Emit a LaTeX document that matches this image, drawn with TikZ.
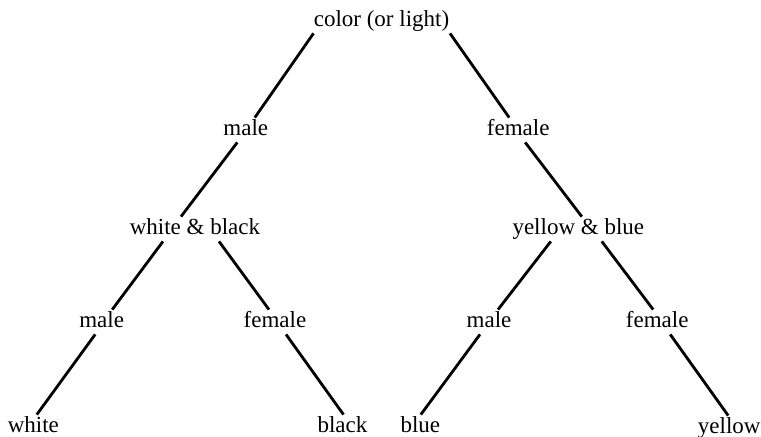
\documentclass[tikz,border=0pt]{standalone}
\usepackage{fontspec}
\setmainfont{Liberation Serif}
\usetikzlibrary{calc}

\begin{document}
\begin{tikzpicture}[
    x=0.5pt, y=-0.5pt,
    font=\fontsize{11.5}{14}\selectfont,
    lbl/.style={anchor=base, inner sep=2pt, text height=0.7em, text depth=0.1em},
    edge/.style={line width=1.4pt},
  ]
  \useasboundingbox (0,0) rectangle (761,437);

  % --- labels, one row per level ---
  \node[lbl] (root) at (381.5,27) {color (or light)};
  \node[lbl] (male) at (245.8,136) {male};
  \node[lbl] (female) at (518.2,136) {female};
  \node[lbl] (wb) at (195,235) {white \& black};
  \node[lbl] (yb) at (578.3,235) {yellow \& blue};
  \node[lbl] (wbmale) at (101.7,328) {male};
  \node[lbl] (wbfemale) at (275,328) {female};
  \node[lbl] (ybmale) at (489,328) {male};
  \node[lbl] (ybfemale) at (657.2,328) {female};
  \node[lbl] (white) at (33.3,433) {white};
  \node[lbl] (black) at (342.5,433) {black};
  \node[lbl] (blue) at (420.3,433) {blue};
  \node[lbl] (yellow) at (729.2,434) {yellow};

  % --- branches ---
  \draw[edge] ($(root.south)+(-68,0)$) -- ($(male.north)+(9,0)$);
  \draw[edge] ($(root.south)+(68.5,0)$) -- ($(female.north)+(-9,0)$);
  \draw[edge] ($(male.south)+(-8.5,0)$) -- ($(wb.north)+(-14,0)$);
  \draw[edge] ($(female.south)+(7,0)$) -- ($(yb.north)+(3.5,0)$);
  \draw[edge] ($(wb.south)+(-32,0)$) -- ($(wbmale.north)+(10.5,0)$);
  \draw[edge] ($(wb.south)+(24,0)$) -- ($(wbfemale.north)+(-6,0)$);
  \draw[edge] ($(yb.south)+(-27.5,0)$) -- ($(ybmale.north)+(9,0)$);
  \draw[edge] ($(yb.south)+(23.5,0)$) -- ($(ybfemale.north)+(-4,0)$);
  \draw[edge] ($(wbmale.south)+(-6.5,0)$) -- ($(white.north)+(3.5,0)$);
  \draw[edge] ($(wbfemale.south)+(11,0)$) -- ($(black.north)+(1,0)$);
  \draw[edge] ($(ybmale.south)+(-9,0)$) -- ($(blue.north)+(0.5,0)$);
  \draw[edge] ($(ybfemale.south)+(13,0)$) -- ($(yellow.north)+(-1,0)$);
\end{tikzpicture}
\end{document}
